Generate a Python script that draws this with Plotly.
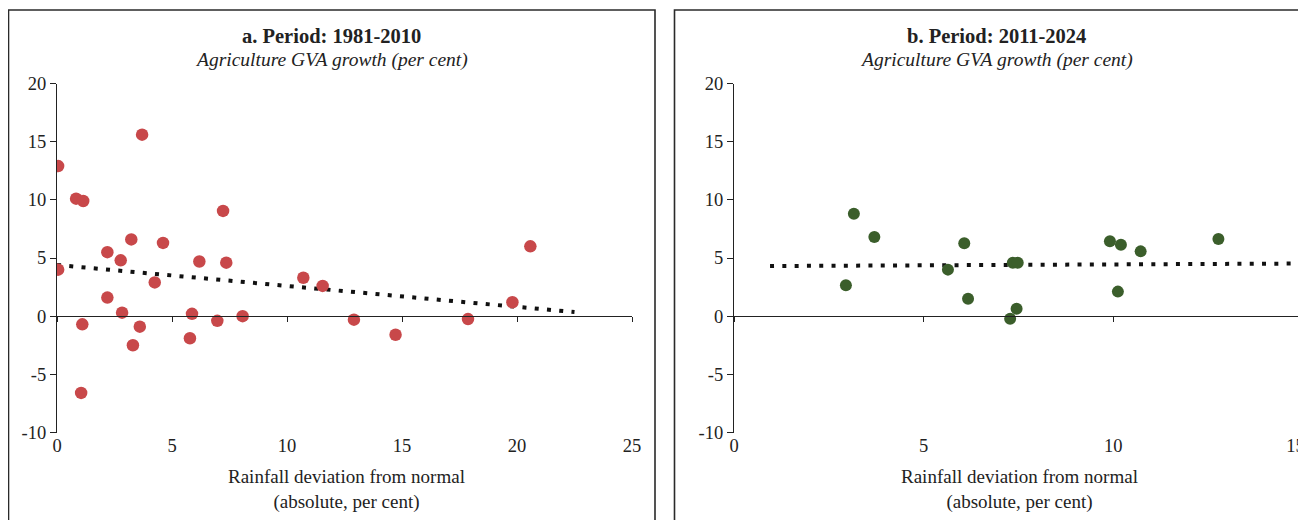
import plotly.graph_objects as go

# ---------------- data ----------------
# Panel a: 1981-2010
rain_a = [0.05, 0.05, 0.83, 1.14, 1.10, 3.70, 2.19, 2.77, 3.23, 4.61,
          4.25, 2.19, 2.83, 3.60, 3.30, 5.87, 5.78, 6.19, 7.22, 7.36,
          6.97, 8.07, 10.71, 11.55, 20.58, 19.80, 12.91, 14.72, 17.87, 1.05]
gva_a = [12.9, 4.0, 10.1, 9.9, -0.7, 15.6, 5.5, 4.8, 6.6, 6.3,
         2.9, 1.6, 0.3, -0.9, -2.5, 0.2, -1.9, 4.7, 9.05, 4.6,
         -0.4, 0.0, 3.3, 2.6, 6.0, 1.2, -0.3, -1.6, -0.25, -6.6]
trend_a_x = [0.0, 22.5]
trend_a_y = [4.4, 0.35]

# Panel b: 2011-2024
rain_b = [3.16, 3.70, 2.95, 6.07, 5.64, 6.17, 7.35, 7.48, 7.45, 7.28,
          9.91, 10.20, 10.72, 10.12, 12.77]
gva_b = [8.8, 6.8, 2.66, 6.26, 4.0, 1.49, 4.6, 4.6, 0.63, -0.23,
         6.43, 6.14, 5.57, 2.11, 6.63]
trend_b_x = [0.95, 14.7]
trend_b_y = [4.31, 4.52]

y_ticks = [-10, -5, 0, 5, 10, 15, 20]
y_tick_labels = ["-10", "-5", "0", "5", "10", "15", "20"]
x_ticks_a = [0, 5, 10, 15, 20, 25]
x_ticks_b = [0, 5, 10, 15]
x_tick_labels_b = ["0", "5", "10", "15"]
titles = ["a. Period: 1981-2010", "b. Period: 2011-2024"]
subtitle = "Agriculture GVA growth (per cent)"
x_title = "Rainfall deviation from normal<br>(absolute, per cent)"

# ---------------- layout helpers ----------------
# the page body has an 8px margin, so the figure is drawn 8px smaller and
# all window-pixel positions are converted accordingly
OFF = 8
WIN_W, WIN_H = 1306, 520
W, H = WIN_W - OFF, WIN_H - OFF
FONT = "Liberation Serif"
INK = "#222222"

def px_x(p):
    return (p - OFF) / W

def px_y(p):
    return (WIN_H - p) / H

dom_a = [px_x(57), px_x(632)]
dom_b = [px_x(734), px_x(1303)]
dom_y = [px_y(432.5), px_y(83.5)]
yr = [-10, 20]
zero_pos = dom_y[0] + (0 - yr[0]) / (yr[1] - yr[0]) * (dom_y[1] - dom_y[0])

# the last label of panel b sits at the window edge; nudge it inward so it stays readable
label_pos_b = list(x_ticks_b[:-1]) + [x_ticks_b[-1] - 0.2]

fig = go.Figure()

# panel a
fig.add_trace(go.Scatter(x=trend_a_x, y=trend_a_y, mode="lines", xaxis="x", yaxis="y",
                         line=dict(color="#111111", width=4, dash="4px,8.3px"),
                         showlegend=False, hoverinfo="skip"))
fig.add_trace(go.Scatter(x=rain_a, y=gva_a, mode="markers", xaxis="x", yaxis="y",
                         marker=dict(color="#C8484A", size=12.5, line=dict(width=0)),
                         showlegend=False))
# panel b
fig.add_trace(go.Scatter(x=trend_b_x, y=trend_b_y, mode="lines", xaxis="x2", yaxis="y2",
                         line=dict(color="#111111", width=4, dash="4px,8.3px"),
                         showlegend=False, hoverinfo="skip"))
fig.add_trace(go.Scatter(x=rain_b, y=gva_b, mode="markers", xaxis="x2", yaxis="y2",
                         marker=dict(color="#3B5E2B", size=12, line=dict(width=0)),
                         showlegend=False))
# helper traces for the zero-line axes
fig.add_trace(go.Scatter(x=[None], y=[None], xaxis="x3", yaxis="y", showlegend=False, hoverinfo="skip"))
fig.add_trace(go.Scatter(x=[None], y=[None], xaxis="x4", yaxis="y2", showlegend=False, hoverinfo="skip"))

tickfont = dict(family=FONT, size=18.5, color=INK)

def label_axis(domain, anchor, rng, ticks, text=None):
    d = dict(domain=domain, anchor=anchor, range=rng, tickvals=ticks,
             showline=False, showgrid=False, zeroline=False, automargin=False,
             ticks="", ticklabeloverflow="allow",
             tickfont=tickfont, fixedrange=True)
    if text is not None:
        d["ticktext"] = text
    return d

def zero_axis(domain, overlay, rng, ticks):
    return dict(domain=domain, overlaying=overlay, anchor="free", position=zero_pos,
                side="bottom", range=rng, tickvals=ticks, showticklabels=False,
                showline=True, linecolor=INK, linewidth=1.3, automargin=False,
                ticks="outside", ticklen=5, tickwidth=1.3, tickcolor=INK,
                showgrid=False, zeroline=False, fixedrange=True)

def y_axis(anchor):
    return dict(domain=dom_y, anchor=anchor, range=yr, tickvals=y_ticks,
                ticktext=y_tick_labels, automargin=False,
                showline=True, linecolor=INK, linewidth=1.3,
                ticks="outside", ticklen=6, tickwidth=1.3, tickcolor=INK,
                tickfont=tickfont, showgrid=False, zeroline=False, fixedrange=True)

fig.update_layout(
    width=W, height=H,
    margin=dict(l=0, r=0, t=0, b=0, pad=0, autoexpand=False),
    paper_bgcolor="white", plot_bgcolor="rgba(0,0,0,0)",
    font=dict(family=FONT, color=INK),
    xaxis=label_axis(dom_a, "y", [0, 25], x_ticks_a),
    yaxis=y_axis("x"),
    xaxis2=label_axis(dom_b, "y2", [0, 15], label_pos_b, x_tick_labels_b),
    yaxis2=y_axis("x2"),
    xaxis3=zero_axis(dom_a, "x", [0, 25], x_ticks_a),
    xaxis4=zero_axis(dom_b, "x2", [0, 15], x_ticks_b),
)

# panel frames
fig.add_shape(type="rect", xref="paper", yref="paper",
              x0=px_x(8.5), x1=px_x(655), y0=-0.05, y1=px_y(10),
              line=dict(color="#2a2a2a", width=1.6), layer="below")
fig.add_shape(type="rect", xref="paper", yref="paper",
              x0=px_x(674.5), x1=1.05, y0=-0.05, y1=px_y(10),
              line=dict(color="#2a2a2a", width=1.6), layer="below")

centers = [px_x(331), px_x(997)]
plot_centers = [px_x(346), px_x(1019)]
for i in range(2):
    fig.add_annotation(text="<b>" + titles[i] + "</b>", xref="paper", yref="paper",
                       x=centers[i], y=px_y(36), showarrow=False,
                       xanchor="center", yanchor="middle",
                       font=dict(family=FONT, size=20.5, color=INK))
    fig.add_annotation(text="<i>" + subtitle + "</i>", xref="paper", yref="paper",
                       x=centers[i], y=px_y(60), showarrow=False,
                       xanchor="center", yanchor="middle",
                       font=dict(family=FONT, size=19.5, color=INK))
    fig.add_annotation(text=x_title, xref="paper", yref="paper",
                       x=plot_centers[i], y=px_y(489), showarrow=False,
                       xanchor="center", yanchor="middle",
                       font=dict(family=FONT, size=19, color=INK))

fig.write_html("out.html")
